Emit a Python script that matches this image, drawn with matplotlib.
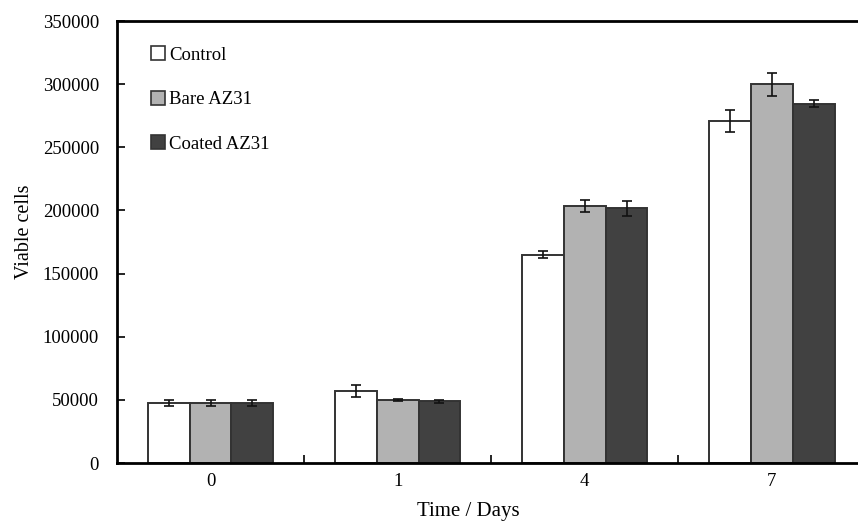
import matplotlib
matplotlib.use("Agg")
import matplotlib.pyplot as plt
import numpy as np
from matplotlib.patches import Patch

plt.rcParams['font.family'] = ['Liberation Serif', 'DejaVu Serif']

days = ["0", "1", "4", "7"]
control = [47500, 57300, 165000, 271000]
control_err = [2500, 4700, 3000, 8800]
bare = [47500, 49700, 203600, 300000]
bare_err = [2500, 800, 4700, 9000]
coated = [47500, 48900, 201800, 284600]
coated_err = [2500, 1000, 6000, 3000]

series = [("Control", control, control_err, "#ffffff"),
          ("Bare AZ31", bare, bare_err, "#b2b2b2"),
          ("Coated AZ31", coated, coated_err, "#414141")]

fig = plt.figure(figsize=(8.58, 5.21), dpi=100)
ax = fig.add_axes([117/858, 58/521, 748.5/858, 442/521])

x = np.arange(len(days))
w = 0.223
for i, (name, vals, errs, col) in enumerate(series):
    pos = x + (i - 1) * w
    ax.bar(pos, vals, width=w, color=col, edgecolor="#333333", linewidth=1.4, zorder=2)
    ax.errorbar(pos, vals, yerr=errs, fmt="none", ecolor="#111111",
                elinewidth=1.2, capsize=3.5, capthick=1.2, zorder=3)

ax.set_xlim(-0.5, 3.5)
ax.set_ylim(0, 350000)
ax.set_yticks(np.arange(0, 350001, 50000))
ax.set_xticks(x)
ax.set_xticklabels(days)
ax.set_xticks([0.5, 1.5, 2.5], minor=True)
ax.tick_params(axis="x", which="major", length=0, pad=7, labelsize=13.5)
ax.tick_params(axis="x", which="minor", direction="in", length=6, width=1.2)
ax.tick_params(axis="y", direction="in", length=6, width=1.2, pad=13, labelsize=13.5)

for s in ax.spines.values():
    s.set_linewidth(2)
    s.set_color("black")

ax.set_ylabel("Viable cells", fontsize=14.5)
ax.yaxis.set_label_coords(-0.111, 0.523)
ax.set_xlabel("Time / Days", fontsize=15)
ax.xaxis.set_label_coords(0.470, -0.088)

handles = [Patch(facecolor=c, edgecolor="#333333", linewidth=1.2, label=n)
           for n, _, _, c in series]
ax.legend(handles=handles, loc="upper left", bbox_to_anchor=(0.035, 0.96),
          frameon=False, fontsize=13.5, handlelength=0.75, handleheight=0.75,
          handletextpad=0.25, labelspacing=1.45, borderaxespad=0)

fig.savefig("out.png", dpi=100)
